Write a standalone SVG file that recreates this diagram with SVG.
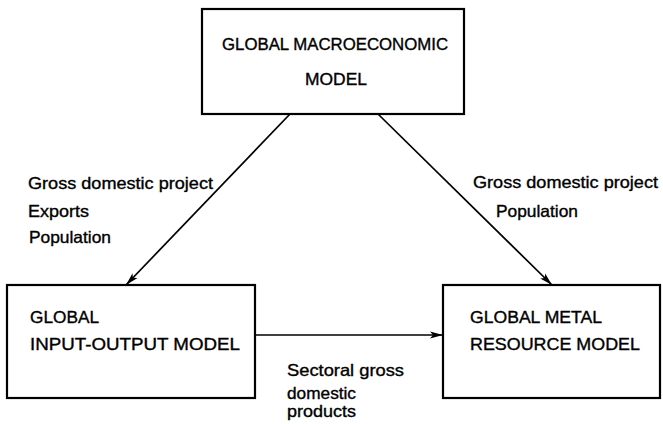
<svg xmlns="http://www.w3.org/2000/svg" width="663" height="424" viewBox="0 0 663 424">
<defs>
<marker id="ah" viewBox="0 0 13 8" refX="13" refY="4" markerWidth="13" markerHeight="8" markerUnits="userSpaceOnUse" orient="auto">
<path d="M0,0.5 L13,4 L0,7.5 L3,4 Z" fill="#000"/>
</marker>
<style>
.box{fill:#fff;stroke:#000;stroke-width:2.2}
.t{font-family:"Liberation Sans",Arial,sans-serif;font-size:16.5px;fill:#000;stroke:#000;stroke-width:0.35}
.l{font-family:"Liberation Sans",Arial,sans-serif;font-size:16.5px;fill:#000;stroke:#000;stroke-width:0.35}
.c{fill:none;stroke:#000;stroke-width:1.7}
</style>
</defs>
<rect width="663" height="424" fill="#fff"/>
<g id="connectors">
<line class="c" x1="290" y1="114" x2="126" y2="285" marker-end="url(#ah)"/>
<line class="c" x1="378" y1="114" x2="552" y2="285" marker-end="url(#ah)"/>
<line class="c" x1="255" y1="335" x2="443" y2="335" marker-end="url(#ah)"/>
</g>
<g id="macro">
<rect class="box" x="202" y="9" width="262" height="105"/>
<text class="t" x="222" y="50" textLength="226" lengthAdjust="spacingAndGlyphs">GLOBAL MACROECONOMIC</text>
<text class="t" x="305" y="85" textLength="62" lengthAdjust="spacingAndGlyphs">MODEL</text>
</g>
<g id="io">
<rect class="box" x="7" y="285" width="248" height="113"/>
<text class="t" x="30" y="323" textLength="69" lengthAdjust="spacingAndGlyphs">GLOBAL</text>
<text class="t" x="30" y="350" textLength="210" lengthAdjust="spacingAndGlyphs">INPUT-OUTPUT MODEL</text>
</g>
<g id="metal">
<rect class="box" x="443" y="285" width="217" height="113"/>
<text class="t" x="470" y="323" textLength="132" lengthAdjust="spacingAndGlyphs">GLOBAL METAL</text>
<text class="t" x="470" y="350" textLength="170" lengthAdjust="spacingAndGlyphs">RESOURCE MODEL</text>
</g>
<g id="labels">
<text class="l" x="28" y="189" textLength="185" lengthAdjust="spacingAndGlyphs">Gross domestic project</text>
<text class="l" x="28" y="217" textLength="61" lengthAdjust="spacingAndGlyphs">Exports</text>
<text class="l" x="29" y="243" textLength="82" lengthAdjust="spacingAndGlyphs">Population</text>
<text class="l" x="473" y="188" textLength="185" lengthAdjust="spacingAndGlyphs">Gross domestic project</text>
<text class="l" x="496" y="217" textLength="82" lengthAdjust="spacingAndGlyphs">Population</text>
<text class="l" x="287" y="376" textLength="117" lengthAdjust="spacingAndGlyphs">Sectoral gross</text>
<text class="l" x="287" y="399" textLength="69" lengthAdjust="spacingAndGlyphs">domestic</text>
<text class="l" x="287" y="417" textLength="69" lengthAdjust="spacingAndGlyphs">products</text>
</g>
</svg>
